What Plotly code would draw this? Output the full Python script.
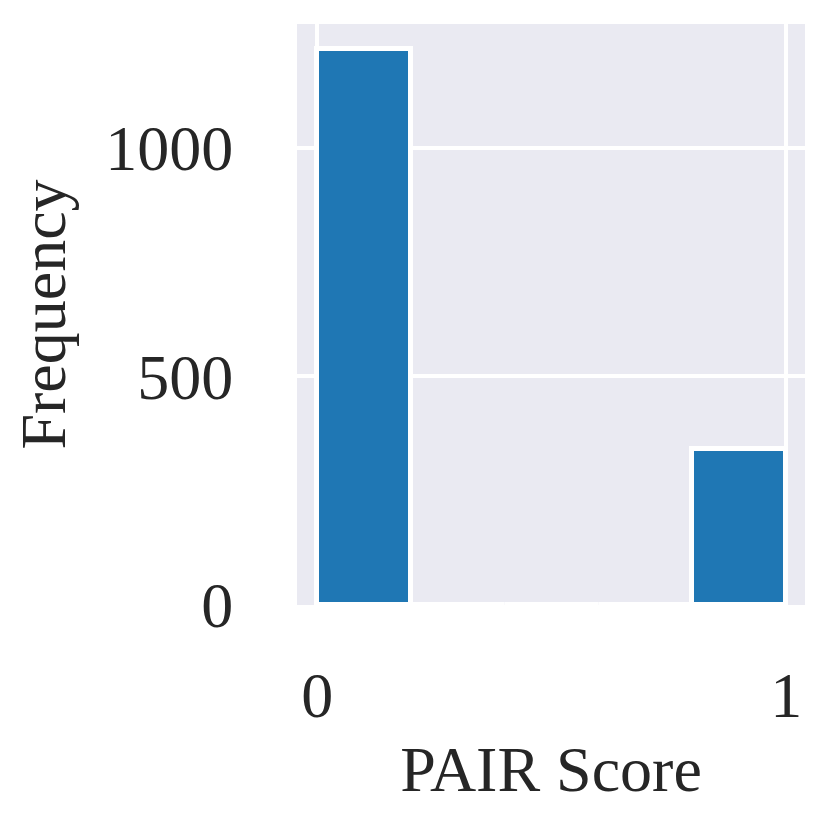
import plotly.graph_objects as go

# histogram of PAIR scores, 5 bins over [0, 1]
bin_left = [0.0, 0.2, 0.4, 0.6, 0.8]
bin_width = 0.2
counts = [1215, 0, 0, 0, 342]

x_ticks = [0, 1]
y_ticks = [0, 500, 1000]

FONT = "Liberation Serif, Times New Roman, serif"
TEXT = "#262626"


def main():
    fig = go.Figure(go.Bar(
        x=bin_left,
        y=counts,
        width=bin_width,
        offset=0,
        marker=dict(color="#1f77b4", line=dict(color="white", width=5)),
    ))

    # page body has an 8px margin, so margins are trimmed to compensate
    fig.update_layout(
        width=830, height=830,
        margin=dict(l=289, r=33, t=16, b=233),
        paper_bgcolor="white",
        plot_bgcolor="#EAEAF2",
        font=dict(family=FONT, size=64, color=TEXT),
        showlegend=False,
        bargap=0,
    )
    fig.update_xaxes(
        range=[-0.043, 1.04], tickvals=x_ticks, ticktext=[str(v) for v in x_ticks],
        showgrid=True, gridcolor="white", gridwidth=4, zeroline=False,
        ticks="outside", ticklen=34, tickcolor="rgba(0,0,0,0)",
        title=dict(text="PAIR Score", standoff=16, font=dict(size=64)),
    )
    fig.update_yaxes(
        range=[0, 1270], tickvals=y_ticks, ticktext=[str(v) for v in y_ticks],
        showgrid=True, gridcolor="white", gridwidth=4, zeroline=False,
        ticks="outside", ticklen=50, tickcolor="rgba(0,0,0,0)",
        title=dict(text="Frequency", standoff=18, font=dict(size=64)),
    )
    fig.write_html("out.html")


if __name__ == "__main__":
    main()
